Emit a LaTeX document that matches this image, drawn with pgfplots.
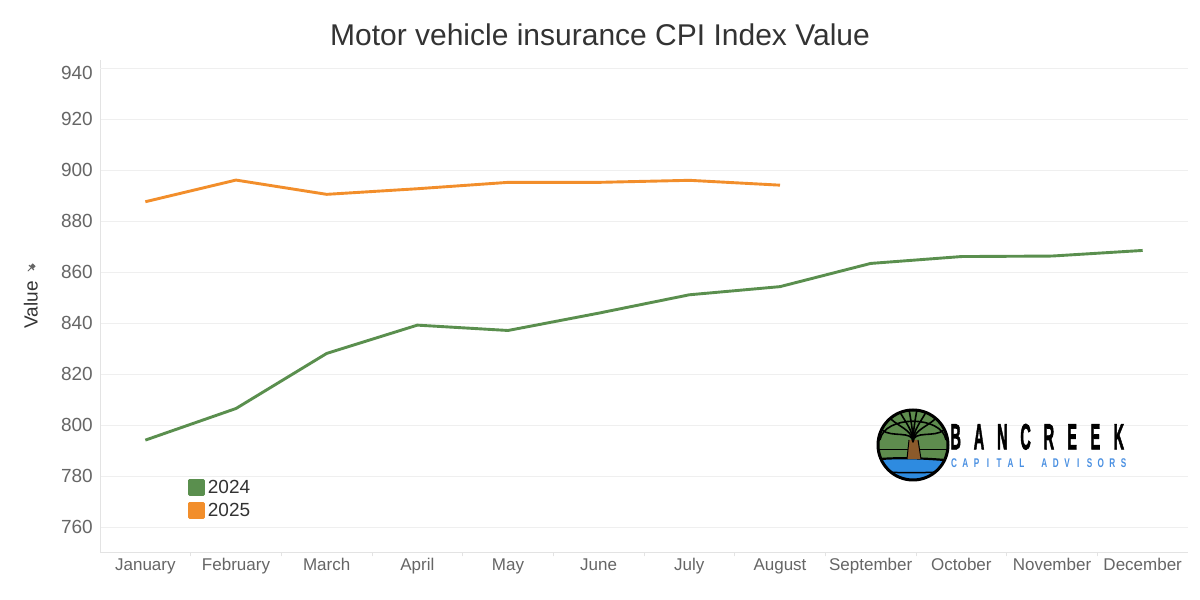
\documentclass[border=0pt]{standalone}
\usepackage{fontspec}
\setmainfont{Liberation Sans}
\newfontfamily\logofont{Liberation Sans Bold}[FakeBold=2.5]
\usepackage{pgfplots}
\pgfplotsset{compat=1.18}
\definecolor{c24}{HTML}{5A8F4E}
\definecolor{c25}{HTML}{F28E2B}
\definecolor{gridc}{HTML}{EFEFEF}
\definecolor{axc}{HTML}{E3E3E3}
\definecolor{tickc}{HTML}{666666}
\definecolor{titlec}{HTML}{333333}
\definecolor{logogreen}{HTML}{5E8C4E}
\definecolor{logoblue}{HTML}{2E8BE0}
\definecolor{logotext}{HTML}{4A90E2}
\definecolor{trunk}{HTML}{8B5A2B}
\begin{document}
\begin{tikzpicture}[x=1bp,y=1bp]
\fill[white] (0,0) rectangle (1200,600);
\useasboundingbox (0,0) rectangle (1200,600);
\begin{axis}[
  at={(100bp,47.7bp)}, anchor=south west, scale only axis,
  width=1088bp, height=492.3bp,
  xmin=-0.5, xmax=11.5, ymin=750.2, ymax=943.3,
  axis lines*=left,
  axis line style={draw=axc, line width=0.8bp},
  xtick={0,...,11},
  xticklabels={January,February,March,April,May,June,July,August,September,October,November,December},
  ytick={760,780,...,920},
  extra y ticks={940},
  extra y tick style={ymajorgrids=true, yticklabel style={yshift=-5bp}},
  extra x ticks={0.5,1.5,...,10.5},
  extra x tick labels={},
  extra x tick style={major tick length=4bp, tick align=outside, xmajorgrids=false},
  major tick length=0pt,
  tick style={draw=axc, line width=0.8bp},
  ymajorgrids,
  grid style={draw=gridc, line width=0.8bp},
  /pgf/number format/assume math mode=true,
  yticklabel style={font=\fontsize{19bp}{22bp}\selectfont, text=tickc, anchor=east, inner sep=0pt, xshift=-7bp},
  xticklabel style={font=\fontsize{17bp}{20bp}\selectfont, text=tickc, anchor=base, inner sep=0pt, yshift=-18bp},
  legend style={at={(0.0809,0.1489)}, anchor=north west, draw=none, fill=none,
    inner sep=0pt, outer sep=0pt, font=\fontsize{19bp}{22bp}\selectfont, text=titlec,
    row sep=6bp, column sep=3bp, nodes={inner sep=0pt}},
  legend image code/.code={\fill[#1] (0bp,-7bp) rectangle (14bp,7bp);},
  legend cell align=left,
  every axis plot/.append style={line width=2.9bp, line join=round},
]
\addplot[c24] coordinates {(0,794.2) (1,806.6) (2,828.2) (3,839.3) (4,837.2) (5,844.0) (6,851.2) (7,854.4) (8,863.5) (9,866.2) (10,866.4) (11,868.6)};
\addlegendentry{2024}
\addplot[c25] coordinates {(0,887.7) (1,896.2) (2,890.6) (3,892.8) (4,895.3) (5,895.3) (6,896.1) (7,894.2)};
\addlegendentry{2025}
\end{axis}
% title
\node[inner sep=0pt, text=titlec, font=\fontsize{30bp}{35bp}\selectfont] at (600,565) {Motor vehicle insurance CPI Index Value};
% y label
\node[rotate=90, anchor=base, inner sep=0pt, text=titlec, font=\fontsize{19bp}{22bp}\selectfont] at (37.7,295) {Value};
\begin{scope}[shift={(31,332)}, rotate=-45]
  \fill[tickc] (-2,0.8) rectangle (2,4.5);
  \fill[tickc] (-3.5,0) rectangle (3.5,1.2);
  \draw[tickc, line width=0.9bp] (0,0) -- (0,-4.5);
\end{scope}
% logo
\begin{scope}
  \clip (913,155) circle (35);
  \fill[logogreen] (875,118) rectangle (951,193);
  \fill[logoblue] (870,140) .. controls (895,143) and (925,142) .. (956,139) -- (956,115) -- (870,115) -- cycle;
  \draw[black, line width=2.2bp] (870,140) .. controls (895,143) and (925,142) .. (956,139);
  \draw[black, line width=1.5bp] (870,130) .. controls (895,126) and (925,127) .. (956,129);
  \draw[black, line width=1bp] (870,150) -- (956,150);
  \fill[trunk] (907,141) -- (909,160) -- (918,160) -- (921,141) -- cycle;
  \draw[black, line width=1bp] (907,141) -- (909,160) (921,141) -- (918,160);
  \foreach \ex/\ey in {882/170, 890/182, 900/188, 909/191, 917/191, 926/188, 936/182, 944/170} {
    \draw[black, line width=1.6bp] (913,158) .. controls (913,170) and ({\ex+0.3*(913-\ex)},{\ey-8}) .. (\ex,\ey);
  }
  \draw[black, line width=1.6bp] (880,160) .. controls (884,185) and (942,185) .. (946,160);
\end{scope}
\draw[black, line width=3bp] (913,155) circle (35);
\foreach \l [count=\i from 0] in {B,A,N,C,R,E,E,K} {
  \node[anchor=base, inner sep=0pt, font=\logofont\fontsize{36.3bp}{40bp}\selectfont] at ({955.7+23.3*\i},150.7) {\scalebox{0.4}[1]{\l}};
}
\foreach \l/\i in {C/0,A/1,P/2,I/3,T/4,A/5,L/6,A/8,D/9,V/10,I/11,S/12,O/13,R/14,S/15} {
  \node[anchor=base, inner sep=0pt, text=logotext, font=\bfseries\fontsize{12.6bp}{14bp}\selectfont] at ({954+11.3*\i},132.7) {\scalebox{0.65}[1]{\l}};
}
\end{tikzpicture}
\end{document}
